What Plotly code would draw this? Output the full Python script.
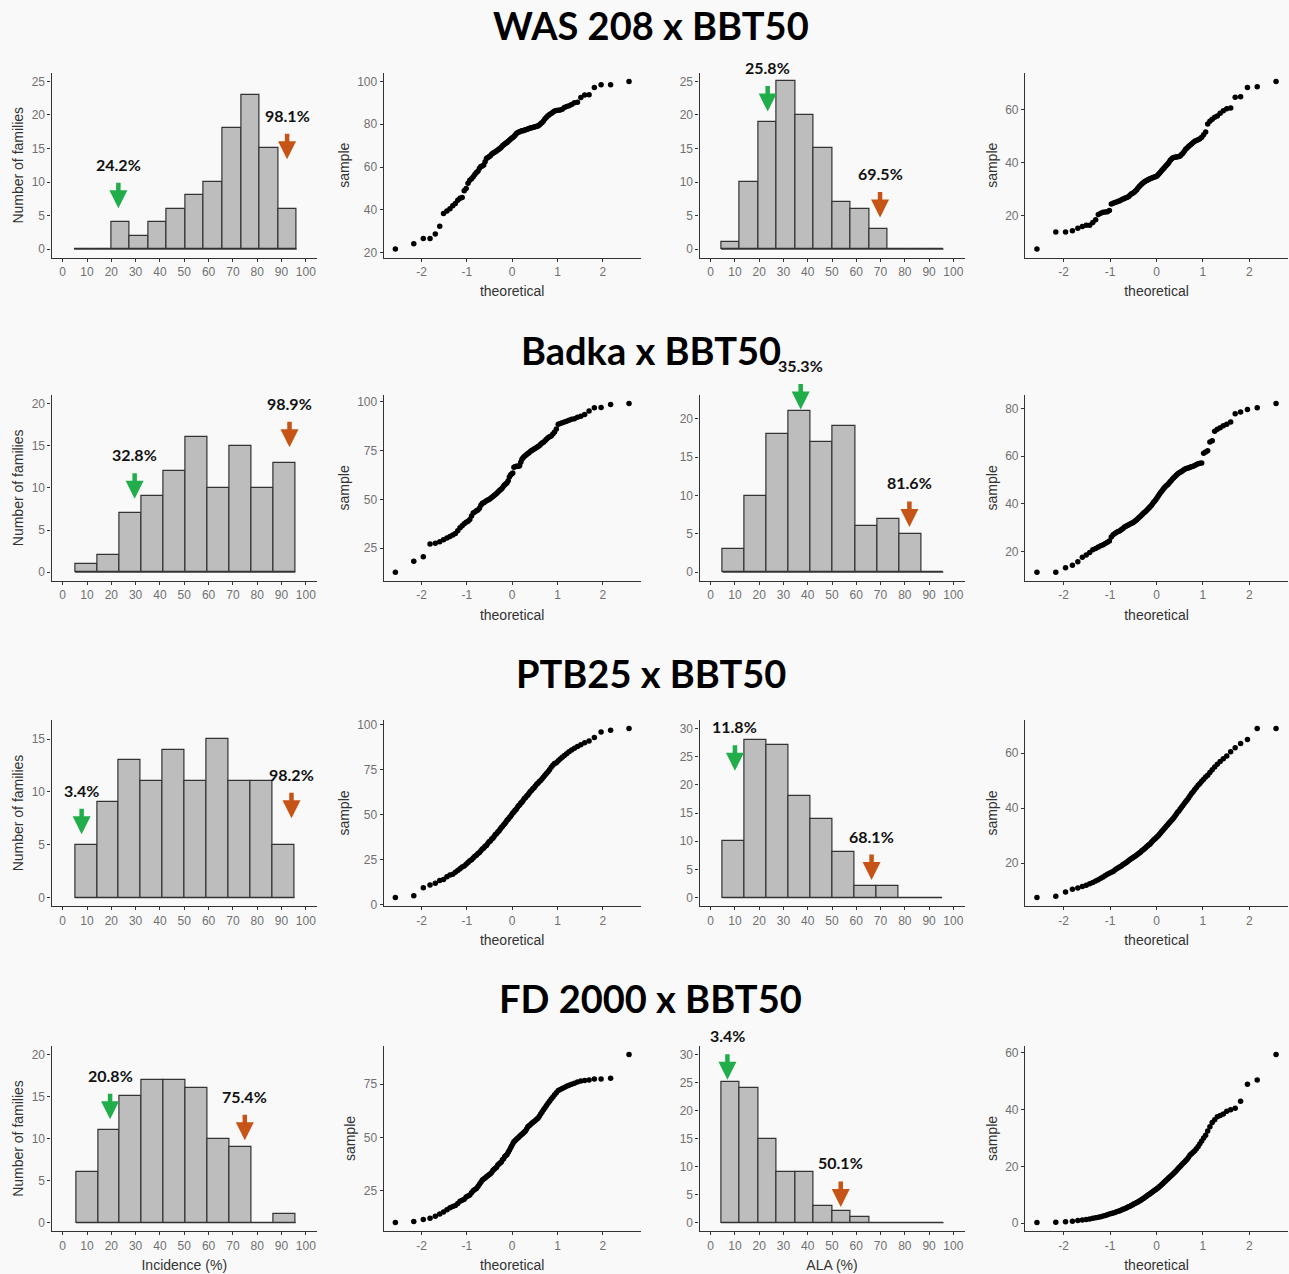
import plotly.graph_objects as go
from statistics import NormalDist

W, H = 1289, 1274

# ---------------- data ----------------
row_titles = ["WAS 208 x BBT50", "Badka x BBT50", "PTB25 x BBT50", "FD 2000 x BBT50"]

# Incidence histograms (first bin edge, bin width, counts)
inc_start = [4.7, 5.1, 5.1, 5.5]
inc_width = [7.63, 9.06, 9.02, 9.03]
inc_counts = [
    [0, 0, 4, 2, 4, 6, 8, 10, 18, 23, 15, 6],
    [1, 2, 7, 9, 12, 16, 10, 15, 10, 13],
    [5, 9, 13, 11, 14, 11, 15, 11, 11, 5],
    [6, 11, 15, 17, 17, 16, 10, 9, 0, 1],
]
inc_ylim = [25, 20, 16, 20]
inc_yticks = [[0, 5, 10, 15, 20, 25], [0, 5, 10, 15, 20], [0, 5, 10, 15], [0, 5, 10, 15, 20]]

# ALA histograms
ala_start = [4.3, 4.9, 4.9, 4.3]
ala_width = [7.64, 9.1, 9.05, 7.64]
ala_counts = [
    [1, 10, 19, 25, 20, 15, 7, 6, 3, 0, 0, 0],
    [3, 10, 18, 21, 17, 19, 6, 7, 5, 0],
    [10, 28, 27, 18, 14, 8, 2, 2, 0, 0],
    [25, 24, 15, 9, 9, 3, 2, 1, 0, 0, 0, 0],
]
ala_ylim = [25, 22, 30, 30]
ala_yticks = [[0, 5, 10, 15, 20, 25], [0, 5, 10, 15, 20], [0, 5, 10, 15, 20, 25, 30], [0, 5, 10, 15, 20, 25, 30]]

hist_xticks = [0, 10, 20, 30, 40, 50, 60, 70, 80, 90, 100]

# Extreme-family labels (low = green, high = orange)
inc_low_label = ["24.2%", "32.8%", "3.4%", "20.8%"]
inc_high_label = ["98.1%", "98.9%", "98.2%", "75.4%"]
ala_low_label = ["25.8%", "35.3%", "11.8%", "3.4%"]
ala_high_label = ["69.5%", "81.6%", "68.1%", "50.1%"]

# Sorted sample values for the normal Q-Q plots
qq_inc = [
    [21.7, 24.2, 26.7, 26.7, 28.8, 32.4, 38.3, 39.5, 40.5, 42.0,
     43.0, 44.5, 45.5, 45.8, 49.0, 50.0, 52.5, 53.8, 54.5, 55.5,
     56.5, 57.5, 58.0, 59.5, 60.3, 60.5, 61.0, 62.5, 64.0, 64.5,
     64.8, 65.3, 66.0, 66.5, 66.8, 67.2, 67.5, 68.0, 68.3, 68.8,
     69.3, 70.0, 70.3, 70.8, 71.2, 71.5, 72.0, 72.5, 73.0, 73.4,
     73.8, 74.3, 74.8, 75.5, 76.0, 76.3, 76.5, 76.7, 76.9, 77.0,
     77.2, 77.4, 77.5, 77.8, 78.0, 78.2, 78.3, 78.5, 78.7, 78.8,
     79.0, 79.2, 79.6, 80.2, 80.8, 81.5, 82.5, 83.2, 84.0, 84.5,
     85.0, 85.6, 86.2, 86.4, 86.5, 86.7, 87.0, 87.8, 88.3, 88.6,
     89.2, 90.0, 90.3, 92.5, 93.6, 93.8, 97.2, 98.4, 98.4, 100.0],
    [12.7, 18.3, 20.6, 27.2, 27.6, 28.3, 29.4, 30.2, 31.0, 31.8,
     32.5, 34.0, 35.5, 36.5, 37.5, 38.3, 38.8, 39.7, 41.5, 43.0,
     43.5, 44.2, 44.6, 45.5, 47.0, 48.0, 48.3, 48.8, 49.3, 49.7,
     50.0, 50.4, 51.0, 51.5, 52.0, 52.5, 53.0, 53.7, 54.3, 54.8,
     55.3, 56.0, 56.8, 57.5, 58.0, 58.5, 59.5, 61.5, 62.5, 63.0,
     63.5, 66.5, 66.7, 66.9, 67.0, 67.0, 67.2, 69.0, 70.5, 71.3,
     72.0, 72.5, 73.0, 73.5, 73.9, 74.5, 75.0, 75.3, 75.8, 76.2,
     76.5, 77.0, 77.5, 78.2, 78.8, 79.2, 80.0, 80.8, 81.5, 82.0,
     82.5, 83.5, 84.5, 86.0, 88.4, 88.8, 89.2, 89.6, 90.0, 90.5,
     91.0, 91.3, 92.0, 92.6, 93.5, 95.2, 96.9, 97.0, 98.6, 99.1],
    [4.0, 5.0, 9.5, 11.0, 12.0, 13.5, 14.0, 15.5, 16.5, 17.0,
     18.0, 19.0, 20.0, 21.0, 21.5, 22.5, 23.5, 24.5, 25.0, 26.0,
     27.0, 27.5, 28.5, 29.0, 30.0, 31.0, 31.5, 32.5, 33.0, 34.0,
     35.0, 35.5, 36.5, 37.0, 38.0, 39.0, 39.5, 40.5, 41.0, 42.0,
     43.0, 43.5, 44.5, 45.0, 46.0, 47.0, 47.5, 48.5, 49.0, 50.0,
     51.0, 51.5, 52.5, 53.0, 54.0, 55.0, 55.5, 56.5, 57.0, 58.0,
     59.0, 59.5, 60.5, 61.0, 62.0, 63.0, 63.5, 64.5, 65.0, 66.0,
     67.0, 67.5, 68.5, 69.0, 70.0, 71.0, 72.0, 73.0, 74.0, 75.0,
     76.5, 77.5, 78.5, 79.0, 80.0, 81.0, 82.0, 83.0, 84.0, 85.0,
     86.0, 87.0, 88.0, 89.0, 90.0, 91.0, 93.0, 96.0, 97.0, 98.0],
    [10.0, 10.5, 11.5, 12.0, 13.0, 14.0, 15.0, 16.0, 17.0, 17.5,
     18.0, 19.0, 20.0, 20.5, 21.0, 22.0, 22.5, 23.0, 24.0, 25.0,
     25.5, 26.0, 27.0, 28.0, 29.0, 30.0, 30.5, 31.0, 31.5, 32.0,
     32.5, 33.0, 33.5, 34.5, 35.0, 35.5, 36.0, 37.0, 37.5, 38.0,
     38.5, 39.5, 40.0, 41.0, 41.5, 42.0, 43.0, 44.0, 45.0, 46.0,
     47.0, 48.0, 48.5, 49.0, 49.5, 50.0, 50.5, 51.0, 51.5, 52.0,
     52.5, 53.0, 54.0, 55.0, 55.5, 56.0, 56.5, 57.0, 57.5, 58.0,
     58.5, 59.0, 60.0, 61.0, 62.0, 63.0, 64.0, 65.0, 66.0, 67.0,
     68.0, 69.0, 70.0, 71.0, 72.0, 72.5, 73.0, 73.5, 74.0, 74.5,
     75.0, 75.5, 76.0, 76.5, 76.7, 77.0, 77.5, 77.5, 77.8, 89.0],
]
qq_ala = [
    [7.5, 13.9, 13.9, 14.4, 15.3, 16.0, 16.5, 16.5, 17.5, 18.5,
     20.5, 21.0, 21.3, 21.4, 21.5, 22.0, 24.4, 24.7, 25.0, 25.2,
     25.5, 25.7, 26.0, 26.3, 26.5, 26.8, 27.0, 27.3, 27.8, 28.3,
     28.5, 28.9, 29.3, 29.8, 30.5, 31.0, 31.5, 32.0, 32.3, 32.7,
     33.0, 33.3, 33.5, 33.7, 33.9, 34.1, 34.3, 34.5, 34.6, 34.8,
     35.0, 35.5, 36.0, 36.5, 37.0, 37.5, 38.0, 38.5, 39.0, 39.5,
     40.0, 40.8, 41.3, 41.7, 41.9, 42.0, 42.1, 42.2, 42.3, 42.5,
     43.0, 43.5, 44.3, 45.0, 45.5, 46.0, 46.5, 47.0, 47.5, 48.0,
     48.3, 48.6, 49.0, 49.5, 50.5, 51.5, 54.5, 55.5, 56.3, 57.0,
     57.5, 58.5, 59.5, 60.2, 60.5, 64.5, 64.7, 68.2, 68.5, 70.5],
    [11.2, 11.2, 13.1, 14.2, 15.6, 17.5, 18.5, 19.5, 20.7, 21.2,
     21.8, 22.3, 22.8, 23.3, 23.8, 24.3, 26.0, 27.0, 27.5, 28.0,
     28.3, 28.7, 29.2, 29.6, 30.2, 30.5, 30.9, 31.2, 31.5, 31.8,
     32.0, 32.4, 32.9, 33.3, 33.8, 34.3, 34.8, 35.3, 35.8, 36.3,
     36.7, 37.2, 37.7, 38.2, 38.7, 39.3, 39.9, 40.6, 41.2, 41.8,
     42.5, 43.3, 44.0, 44.7, 45.3, 46.0, 46.6, 47.2, 47.7, 48.0,
     48.6, 49.3, 49.8, 50.4, 51.0, 51.5, 52.0, 52.5, 52.9, 53.3,
     53.6, 54.0, 54.4, 54.7, 54.9, 55.1, 55.4, 55.6, 55.8, 56.1,
     56.5, 56.8, 57.0, 57.2, 61.2, 61.8, 62.3, 66.0, 66.5, 70.5,
     71.3, 72.0, 72.8, 73.4, 74.4, 77.9, 78.6, 79.7, 80.4, 82.2],
    [7.5, 8.0, 9.5, 10.5, 11.0, 11.5, 12.0, 12.5, 13.0, 13.5,
     14.0, 14.5, 15.0, 15.5, 16.0, 16.3, 16.7, 17.0, 17.5, 18.0,
     18.3, 18.7, 19.0, 19.5, 19.8, 20.2, 20.5, 21.0, 21.3, 21.7,
     22.0, 22.3, 22.6, 23.0, 23.3, 23.7, 24.0, 24.5, 24.8, 25.2,
     25.5, 26.0, 26.3, 26.7, 27.0, 27.5, 28.0, 28.4, 28.8, 29.2,
     29.6, 30.0, 30.5, 31.0, 31.5, 32.0, 32.5, 33.0, 33.5, 34.0,
     34.5, 35.0, 35.5, 36.0, 36.5, 37.2, 37.8, 38.5, 39.0, 39.7,
     40.3, 41.0, 41.7, 42.3, 43.0, 43.7, 44.5, 45.3, 46.0, 46.8,
     47.5, 48.3, 49.0, 49.8, 50.5, 51.3, 52.0, 53.0, 54.0, 55.0,
     56.0, 57.0, 58.0, 59.0, 60.5, 62.0, 63.5, 65.0, 69.0, 69.0],
    [0.2, 0.3, 0.5, 0.7, 0.9, 1.1, 1.3, 1.5, 1.7, 1.9,
     2.1, 2.3, 2.5, 2.7, 3.0, 3.2, 3.4, 3.6, 3.8, 4.0,
     4.2, 4.4, 4.6, 4.9, 5.1, 5.3, 5.6, 5.8, 6.0, 6.3,
     6.5, 6.8, 7.0, 7.3, 7.5, 7.8, 8.0, 8.3, 8.6, 8.9,
     9.2, 9.5, 9.8, 10.1, 10.4, 10.7, 11.0, 11.3, 11.6, 11.9,
     12.2, 12.5, 12.9, 13.2, 13.6, 14.0, 14.4, 14.8, 15.2, 15.6,
     16.0, 16.4, 16.8, 17.2, 17.6, 18.0, 18.5, 19.0, 19.5, 20.0,
     20.5, 21.0, 21.5, 22.0, 22.5, 23.2, 24.0, 24.5, 25.0, 25.5,
     26.2, 27.0, 28.0, 29.0, 30.0, 31.0, 32.5, 34.0, 35.5, 36.5,
     37.5, 38.0, 38.5, 39.5, 40.0, 40.5, 43.0, 49.0, 50.5, 59.5],
]
qq_inc_ticks = [[20, 40, 60, 80, 100], [25, 50, 75, 100], [0, 25, 50, 75, 100], [25, 50, 75]]
qq_ala_ticks = [[20, 40, 60], [20, 40, 60, 80], [20, 40, 60], [0, 20, 40, 60]]
qq_xticks = [-2, -1, 0, 1, 2]
qq_xticktext = ["-2", "-1", "0", "1", "2"]

# ---------------- layout constants ----------------
col_px = [(51.5, 317.0), (383.7, 640.7), (699.5, 964.5), (1025.0, 1288.0)]
row_px = [(73.0, 257.5), (395.0, 580.7), (720.0, 906.0), (1046.0, 1231.0)]
title_y_px = [25, 350, 673, 998]
# arrow tip positions (x, y in data units) for [low, high] on each histogram
inc_arrows = [[(22.9, 6.1), (92.3, 13.4)], [(29.6, 8.7), (93.3, 14.8)],
              [(7.8, 6.0), (94.1, 7.5)], [(19.5, 12.3), (74.9, 9.8)]]
ala_arrows = [[(23.5, 20.5), (69.8, 4.7)], [(37.1, 21.2), (81.9, 5.9)],
              [(10.0, 22.5), (66.3, 3.1)], [(6.9, 25.5), (53.6, 2.8)]]

GREEN = "#22AD4B"
ORANGE = "#C55416"
BG = "#F9F9F9"
AXC = "#333333"
TICKC = "#707070"
FONT = "Liberation Sans, Arial, sans-serif"
BOLD = "Lato, Open Sans, sans-serif"

fig = go.Figure()
layout = dict(width=W, height=H, margin=dict(l=0, r=0, t=0, b=0),
              paper_bgcolor=BG, plot_bgcolor=BG, showlegend=False,
              font=dict(family=FONT, color=AXC), bargap=0)
annotations = []


def ax_names(r, c):
    i = r * 4 + c + 1
    s = "" if i == 1 else str(i)
    return "xaxis" + s, "yaxis" + s, "x" + s, "y" + s


def base_axis(domain, rng, tickvals, ticktext=None):
    d = dict(domain=domain, range=rng, showgrid=False, zeroline=False,
             showline=True, linecolor=AXC, linewidth=1.2,
             ticks="outside", ticklen=3, tickwidth=1, tickcolor=AXC,
             tickvals=tickvals, tickfont=dict(size=12, color=TICKC, family=FONT),
             automargin=False, fixedrange=True)
    if ticktext is not None:
        d["ticktext"] = ticktext
    return d


def add_hist(r, c, start, width, counts, ylim, yticks, arrows, labels, ytitle, xtitle):
    xa, ya, xr, yr = ax_names(r, c)
    n = len(counts)
    centers = [start + width * (k + 0.5) for k in range(n)]
    fig.add_trace(go.Scatter(x=[start, start + width * n], y=[0, 0], mode="lines",
                             line=dict(color=AXC, width=1.2), xaxis=xr, yaxis=yr,
                             hoverinfo="skip"))
    fig.add_trace(go.Bar(x=centers, y=counts, width=[width] * n, xaxis=xr, yaxis=yr,
                         marker=dict(color="#BDBDBD", line=dict(color=AXC, width=1.2))))
    xd = [col_px[c][0] / W, col_px[c][1] / W]
    yd = [1 - row_px[r][1] / H, 1 - row_px[r][0] / H]
    xax = base_axis(xd, [-4.6, 104.6], hist_xticks)
    xax["anchor"] = yr
    if xtitle:
        xax["title"] = dict(text=xtitle, font=dict(size=14, color=AXC), standoff=8)
    yax = base_axis(yd, [-0.05 * ylim, 1.05 * ylim], yticks)
    yax["anchor"] = xr
    if ytitle:
        yax["title"] = dict(text=ytitle, font=dict(size=14, color=AXC), standoff=4)
    layout[xa] = xax
    layout[ya] = yax
    for (x, y), lab, col in zip(arrows, labels, [GREEN, ORANGE]):
        annotations.append(dict(x=x, y=y, xref=xr, yref=yr, text="", showarrow=True,
                                ax=0, ay=-27, arrowhead=2, arrowsize=0.8, arrowwidth=4.5,
                                arrowcolor=col, standoff=0))
        annotations.append(dict(x=x, y=y, xref=xr, yref=yr, text="<b>" + lab + "</b>",
                                showarrow=False, yshift=44,
                                font=dict(size=16, color="#111111", family=BOLD)))


def add_qq(r, c, sample, yticks):
    xa, ya, xr, yr = ax_names(r, c)
    n = len(sample)
    nd = NormalDist()
    theo = [nd.inv_cdf((k + 0.5) / n) for k in range(n)]
    fig.add_trace(go.Scatter(x=theo, y=sorted(sample), mode="markers", xaxis=xr, yaxis=yr,
                             marker=dict(color="#000000", size=5.5)))
    lo, hi = min(sample), max(sample)
    pad = 0.05 * (hi - lo)
    tpad = 0.05 * (theo[-1] - theo[0])
    xd = [col_px[c][0] / W, col_px[c][1] / W]
    yd = [1 - row_px[r][1] / H, 1 - row_px[r][0] / H]
    xax = base_axis(xd, [theo[0] - tpad, theo[-1] + tpad], qq_xticks, qq_xticktext)
    xax["anchor"] = yr
    xax["title"] = dict(text="theoretical", font=dict(size=14, color=AXC), standoff=8)
    yax = base_axis(yd, [lo - pad, hi + pad], yticks)
    yax["anchor"] = xr
    yax["title"] = dict(text="sample", font=dict(size=14, color=AXC), standoff=4)
    layout[xa] = xax
    layout[ya] = yax


for r in range(4):
    last = r == 3
    add_hist(r, 0, inc_start[r], inc_width[r], inc_counts[r], inc_ylim[r], inc_yticks[r],
             inc_arrows[r], [inc_low_label[r], inc_high_label[r]],
             "Number of families", "Incidence (%)" if last else None)
    add_qq(r, 1, qq_inc[r], qq_inc_ticks[r])
    add_hist(r, 2, ala_start[r], ala_width[r], ala_counts[r], ala_ylim[r], ala_yticks[r],
             ala_arrows[r], [ala_low_label[r], ala_high_label[r]],
             None, "ALA (%)" if last else None)
    add_qq(r, 3, qq_ala[r], qq_ala_ticks[r])
    annotations.append(dict(x=0.505, y=1 - title_y_px[r] / H, xref="paper", yref="paper",
                            text="<b>" + row_titles[r] + "</b>", showarrow=False,
                            font=dict(size=38, color="#000000", family=BOLD),
                            xanchor="center", yanchor="middle"))

layout["annotations"] = annotations
fig.update_layout(**layout)
fig.write_html("out.html", config={"displayModeBar": False},
               post_script="document.body.style.margin='0';")
